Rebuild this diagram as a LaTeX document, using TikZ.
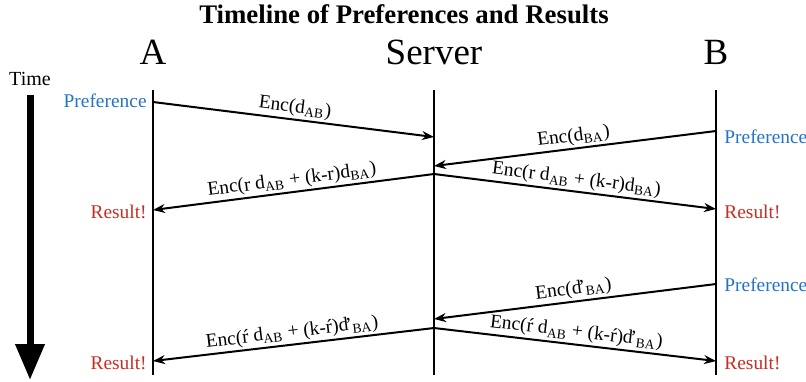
\documentclass[tikz,border=0pt]{standalone}
\usepackage{fontspec}
\newfontfamily\tnr{Liberation Serif}
\usetikzlibrary{arrows.meta}
\definecolor{prefblue}{RGB}{35,115,200}
\definecolor{resred}{RGB}{200,45,35}
\newcommand{\sub}[1]{\textsubscript{#1}}
\newcommand{\dpr}{d\kern-0.14em’}

\begin{document}
\begin{tikzpicture}[
    x=0.5pt,
    y=-0.5pt,
    every node/.style={font=\tnr\fontsize{9.7}{11}\selectfont},
    party/.style={font=\tnr\fontsize{18.5}{20}\selectfont},
    pref/.style={text=prefblue, inner sep=0pt},
    result/.style={text=resred, inner sep=0pt},
    lifeline/.style={draw=black, line width=1pt},
    msg/.style={draw=black, line width=1pt, -{Stealth[length=6pt, width=4.5pt]}},
    msglabel/.style={midway, sloped, above, inner sep=1pt}
]
    \useasboundingbox (0,0) rectangle (806,381);

    \node[font=\tnr\bfseries\fontsize{13.4}{15}\selectfont] (title) at (404,14) {Timeline of Preferences and Results};

    % parties and their lifelines
    \foreach \p/\x/\name in {a/153/A, s/434/Server, b/716/B}{
        \node[party] (\p head) at (\x,52) {\name};
        \coordinate (\p top) at (\x,90);
        \coordinate (\p bot) at (\x,375);
        \draw[lifeline] (\p top) -- (\p bot);
    }

    % time axis
    \node[font=\tnr\fontsize{10}{12}\selectfont] (time) at (30,79) {Time};
    \coordinate (tstart) at (30,95);
    \coordinate (tend) at (30,380);
    \draw[line width=3.5pt, -{Triangle[length=18pt, width=14pt]}] (tstart) -- (tend);

    % message end points
    \coordinate (a1) at (153,102);
    \coordinate (s1) at (434,137);
    \coordinate (b2) at (716,131);
    \coordinate (s2) at (434,166);
    \coordinate (s3) at (434,174);
    \coordinate (a3) at (153,210);
    \coordinate (b3) at (716,209);
    \coordinate (b5) at (716,284);
    \coordinate (s5) at (434,319);
    \coordinate (s6) at (434,328);
    \coordinate (a6) at (153,361);
    \coordinate (b6) at (716,361);

    \draw[msg] (a1) -- node[msglabel] {Enc(d\sub{AB})} (s1);
    \draw[msg] (b2) -- node[msglabel] {Enc(d\sub{BA})} (s2);
    \draw[msg] (s3) -- node[msglabel] {Enc(r d\sub{AB} + (k-r)d\sub{BA})} (a3);
    \draw[msg] (s3) -- node[msglabel] {Enc(r d\sub{AB} + (k-r)d\sub{BA})} (b3);
    \draw[msg] (b5) -- node[msglabel] {Enc(\dpr\sub{BA})} (s5);
    \draw[msg] (s6) -- node[msglabel] {Enc(ŕ d\sub{AB} + (k-ŕ)\dpr\sub{BA})} (a6);
    \draw[msg] (s6) -- node[msglabel] {Enc(ŕ d\sub{AB} + (k-ŕ)\dpr\sub{BA})} (b6);

    % events beside the lifelines
    \foreach \n/\y/\st/\txt in {apref/101/pref/Preference, ares1/212/result/Result!, ares2/363/result/Result!}{
        \node[\st, anchor=east] (\n) at (147,\y) {\txt};
    }
    \foreach \n/\y/\st/\txt in {bpref1/137/pref/Preference, bres1/212/result/Result!, bpref2/285/pref/Preference, bres2/363/result/Result!}{
        \node[\st, anchor=west] (\n) at (724,\y) {\txt};
    }

\end{tikzpicture}
\end{document}
